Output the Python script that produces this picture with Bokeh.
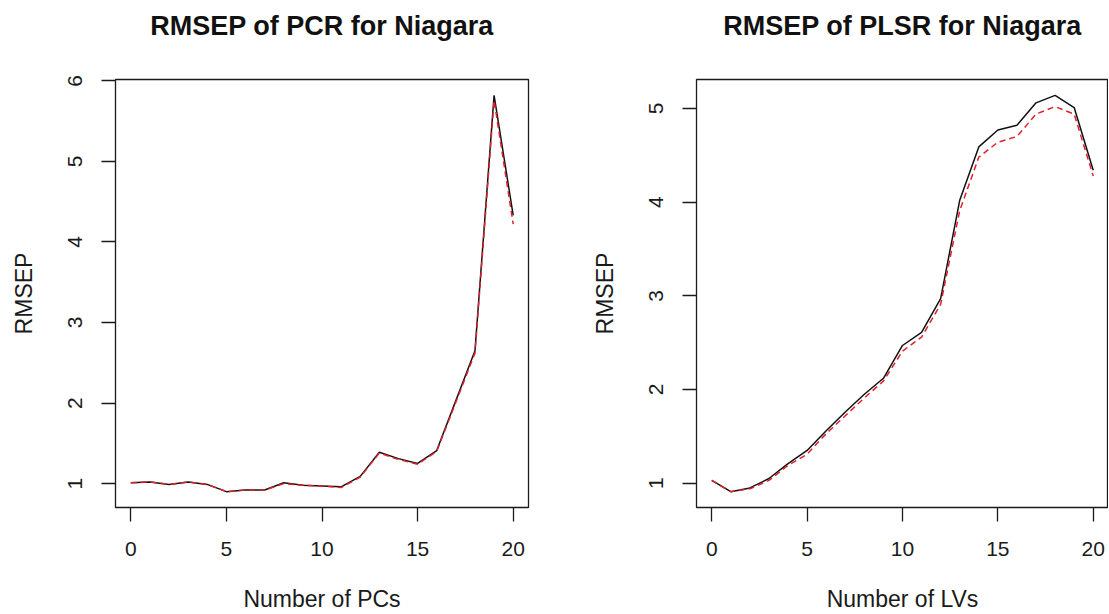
from bokeh.plotting import figure
from bokeh.layouts import row
from bokeh.models import Range1d, FixedTicker, LinearAxis
from bokeh.embed import file_html
from bokeh.resources import INLINE

# ---- data ----
components = [0, 1, 2, 3, 4, 5, 6, 7, 8, 9, 10, 11, 12, 13, 14, 15, 16, 17, 18, 19, 20]

pcr_cv = [1.01, 1.02, 0.99, 1.02, 0.99, 0.90, 0.92, 0.92, 1.01, 0.98, 0.97,
          0.96, 1.09, 1.39, 1.31, 1.25, 1.41, 2.03, 2.65, 5.82, 4.33]
pcr_adjcv = [1.01, 1.02, 0.99, 1.02, 0.99, 0.90, 0.92, 0.92, 1.00, 0.98, 0.97,
             0.95, 1.08, 1.38, 1.30, 1.24, 1.40, 2.01, 2.62, 5.76, 4.22]

plsr_cv = [1.03, 0.91, 0.95, 1.05, 1.21, 1.35, 1.56, 1.76, 1.95, 2.12, 2.47,
           2.61, 2.97, 4.02, 4.59, 4.77, 4.82, 5.06, 5.14, 5.01, 4.34]
plsr_adjcv = [1.03, 0.91, 0.94, 1.03, 1.19, 1.31, 1.53, 1.72, 1.91, 2.09, 2.41,
              2.56, 2.91, 3.91, 4.48, 4.64, 4.70, 4.94, 5.02, 4.94, 4.28]

x_ticks = [0, 5, 10, 15, 20]
pcr_y_ticks = [1, 2, 3, 4, 5, 6]
plsr_y_ticks = [1, 2, 3, 4, 5]

titles = ["RMSEP of PCR for Niagara", "RMSEP of PLSR for Niagara"]
x_labels = ["Number of PCs", "Number of LVs"]
y_label = "RMSEP"

FONT = "Liberation Sans"
INK = "#1a1a1a"


def r_range(*series):
    vals = [v for s in series for v in s]
    lo, hi = min(vals), max(vals)
    pad = 0.04 * (hi - lo)
    return lo - pad, hi + pad


def make_panel(title, xlabel, cv, adj, yticks, width, mbl, mbr):
    xlo, xhi = r_range(components)
    ylo, yhi = r_range(cv, adj)
    p = figure(width=width, height=614,
               x_range=Range1d(xlo, xhi), y_range=Range1d(ylo, yhi),
               output_backend="svg", toolbar_location=None,
               min_border_left=mbl, min_border_right=mbr,
               min_border_top=79, min_border_bottom=107,
               title=title)
    p.background_fill_color = "white"
    p.border_fill_color = "white"
    p.grid.visible = False
    p.outline_line_color = INK
    p.outline_line_width = 1.3

    xax = p.below[0]
    yax = p.left[0]

    # invisible spacer axis between the plot box and the title
    # (R puts the main title well above the plot box)
    spacer = LinearAxis(ticker=FixedTicker(ticks=[x_ticks[2]]),
                        major_tick_out=39, major_tick_in=0,
                        minor_tick_out=0, minor_tick_in=0,
                        major_label_standoff=0,
                        major_label_overrides={x_ticks[2]: ""},
                        axis_line_color=None,
                        major_tick_line_color=None,
                        minor_tick_line_color=None,
                        major_label_text_font_size="1px",
                        major_label_text_color=None)
    p.add_layout(spacer, "above")

    p.title.align = "center"
    p.title.vertical_align = "bottom"
    p.title.text_font = FONT
    p.title.text_font_size = "27px"
    p.title.text_font_style = "bold"
    p.title.text_color = "#111111"
    p.title.standoff = 0

    p.line(components, cv, line_color="#111111", line_width=1.5)
    p.line(components, adj, line_color="#E0202C", line_width=1.5,
           line_dash="6 4")

    for ax in (xax, yax):
        ax.axis_line_color = None
        ax.major_tick_line_color = INK
        ax.major_tick_line_width = 1.3
        ax.minor_tick_line_color = None
        ax.major_tick_in = 0
        ax.major_tick_out = 14
        ax.major_label_text_font = FONT
        ax.major_label_text_font_size = "21px"
        ax.major_label_text_color = INK
        ax.axis_label_text_font = FONT
        ax.axis_label_text_font_size = "23px"
        ax.axis_label_text_font_style = "normal"
        ax.axis_label_text_color = INK

    xax.ticker = FixedTicker(ticks=x_ticks)
    xax.axis_label = xlabel
    xax.major_label_standoff = 20
    xax.axis_label_standoff = 27

    yax.ticker = FixedTicker(ticks=yticks)
    yax.axis_label = y_label
    yax.major_label_orientation = "vertical"
    yax.major_label_standoff = 19
    yax.axis_label_standoff = 29
    return p


p1 = make_panel(titles[0], x_labels[0], pcr_cv, pcr_adjcv, pcr_y_ticks,
                555, 115, 27)
p2 = make_panel(titles[1], x_labels[1], plsr_cv, plsr_adjcv, plsr_y_ticks,
                553, 141, 0)

layout = row(p1, p2)
open("out.html", "w").write(file_html(layout, INLINE))
